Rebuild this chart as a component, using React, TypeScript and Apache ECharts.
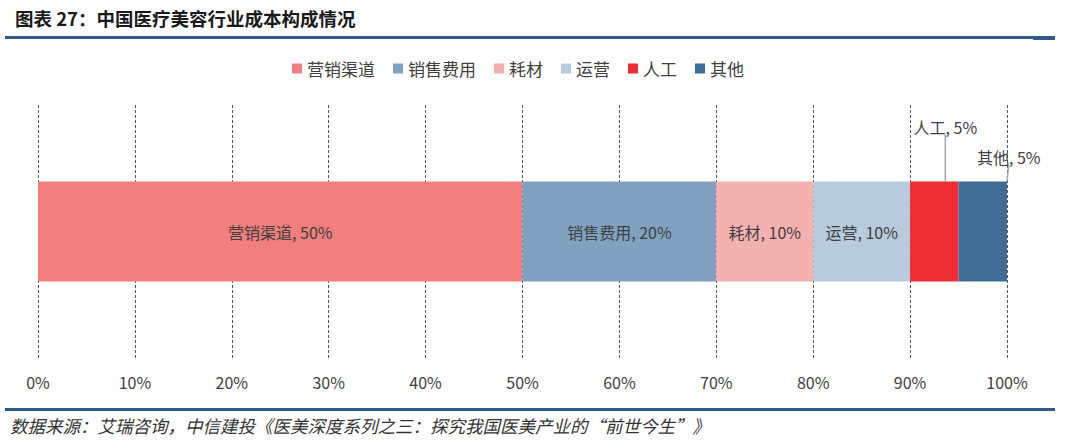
import React, { useEffect, useRef } from "react";
import * as echarts from "echarts";

const categories = ["成本构成"];
const seriesNames = ["营销渠道", "销售费用", "耗材", "运营", "人工", "其他"];
const seriesValues = [50, 20, 10, 10, 5, 5];
const seriesColors = ["#F27E7E", "#7FA2C1", "#F5B0B0", "#B7CBDC", "#EF2D35", "#3F6D95"];
const tickLabels = ["0%", "10%", "20%", "30%", "40%", "50%", "60%", "70%", "80%", "90%", "100%"];

const titleText = "图表 27：中国医疗美容行业成本构成情况";
const sourceText = "数据来源：艾瑞咨询，中信建投《医美深度系列之三：探究我国医美产业的“前世今生”》";

export default function App() {
  const ref = useRef<HTMLDivElement>(null);
  useEffect(() => {
    if (!ref.current) return;
    const chart = echarts.init(ref.current, null, { renderer: "svg" });
    const font = "'Noto Sans CJK SC', 'Open Sans', sans-serif";
    const outside: Record<number, { dx: number; dy: number }> = {
      4: { dx: 11, dy: -42 },
      5: { dx: 26, dy: -12 },
    };
    const series = seriesNames.map((name, i) => {
      const out = outside[i];
      const s: any = {
        name,
        type: "bar",
        stack: "total",
        barWidth: 100,
        data: [seriesValues[i]],
        itemStyle: { color: seriesColors[i] },
        label: {
          show: true,
          position: out ? "top" : "inside",
          formatter: (p: any) => `${p.seriesName}, ${p.value}%`,
          color: "#404040",
          fontSize: 16,
          fontFamily: font,
        },
      };
      if (out) {
        s.labelLayout = { dx: out.dx, dy: out.dy };
        s.labelLine = { show: true, lineStyle: { color: "#A6A6A6", width: 1.5 } };
      }
      return s;
    });
    chart.setOption({
      animation: false,
      textStyle: { fontFamily: font },
      title: {
        text: titleText,
        left: 10,
        top: 4,
        textStyle: { fontSize: 18.5, fontWeight: "bold", color: "#1a1a1a", fontFamily: font },
      },
      legend: {
        top: 55,
        left: 287,
        icon: "rect",
        itemWidth: 10,
        itemHeight: 10,
        itemGap: 18,
        textStyle: { fontSize: 17, color: "#404040", fontFamily: font },
        data: seriesNames,
      },
      grid: { left: 38, right: 73, top: 105, bottom: 82 },
      xAxis: {
        type: "value",
        min: 0,
        max: 100,
        interval: 10,
        axisLine: { show: false },
        axisTick: { show: false },
        splitLine: { show: true, lineStyle: { type: [3, 2], color: "#555", width: 1 } },
        axisLabel: {
          margin: 16,
          fontSize: 16,
          color: "#404040",
          fontFamily: font,
          formatter: (v: number) => tickLabels[Math.round(v / 10)],
        },
      },
      yAxis: {
        type: "category",
        data: categories,
        show: false,
      },
      series,
      graphic: [
        { type: "rect", shape: { x: 5, y: 36, width: 1050, height: 3 }, style: { fill: "#2F5B8C" } },
        { type: "rect", shape: { x: 1033, y: 36, width: 22, height: 4 }, style: { fill: "#2F5B8C" } },
        { type: "rect", shape: { x: 5, y: 408, width: 1050, height: 3 }, style: { fill: "#2F5B8C" } },
        {
          type: "text",
          left: 10,
          top: 417,
          style: {
            text: sourceText,
            fontSize: 17.5,
            fontStyle: "italic",
            fill: "#333",
            fontFamily: "'Noto Sans CJK SC', serif",
          },
        },
      ],
    });
    return () => chart.dispose();
  }, []);
  return <div ref={ref} style={{ width: 1080, height: 440, position: "absolute", left: 0, top: 0 }} />;
}
